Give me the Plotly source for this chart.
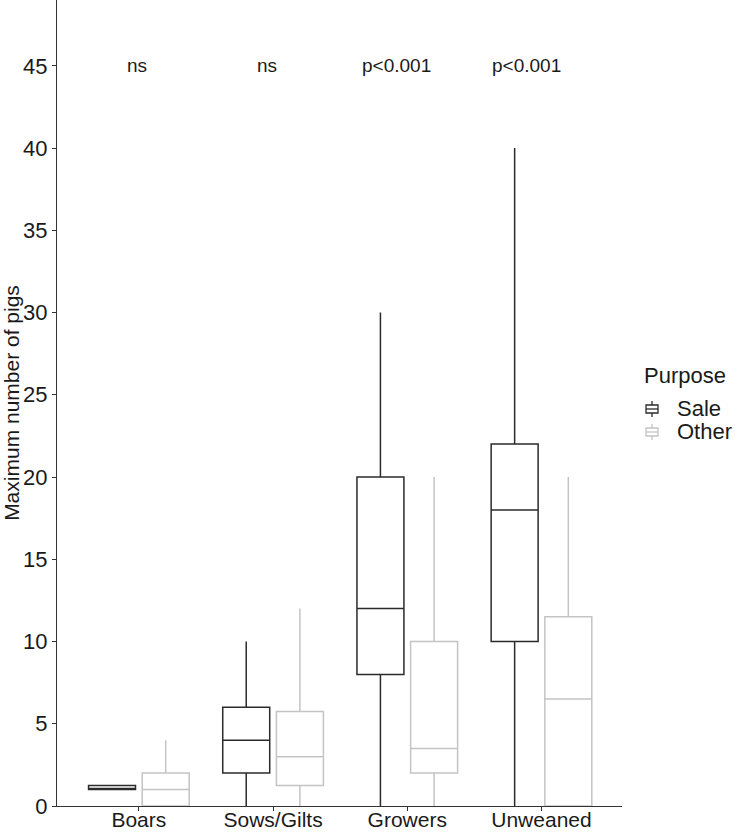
import plotly.graph_objects as go

categories = ["Boars", "Sows/Gilts", "Growers", "Unweaned"]

# Sale series (quartile summary)
sale_lower = [1, 0, 0, 0]
sale_q1 = [1, 2, 8, 10]
sale_median = [1, 4, 12, 18]
sale_q3 = [1.25, 6, 20, 22]
sale_upper = [1.25, 10, 30, 40]

# Other series
other_lower = [0, 0, 0, 0]
other_q1 = [0, 1.25, 2, 0]
other_median = [1, 3, 3.5, 6.5]
other_q3 = [2, 5.75, 10, 11.5]
other_upper = [4, 12, 20, 20]

p_labels = ["ns", "ns", "p<0.001", "p<0.001"]
p_label_y = 45
p_label_x = [-0.015, 0.955, 1.92, 2.89]

y_ticks = [0, 5, 10, 15, 20, 25, 30, 35, 40, 45]

legend_title = "Purpose"
legend_names = ["Sale", "Other"]

SALE_COLOR = "#2b2b2b"
OTHER_COLOR = "#c4c4c4"
TEXT_COLOR = "#1a1a1a"

W, H = 737, 833
ML, MR, MT, MB = 57, 115, 0, 27
PW, PH = W - ML - MR, H - MT - MB


def px_to_paper(px, py):
    return (px - ML) / PW, (H - MB - py) / PH


fig = go.Figure()
fig.add_trace(go.Box(
    name="Sale", x=categories, q1=sale_q1, median=sale_median, q3=sale_q3,
    lowerfence=sale_lower, upperfence=sale_upper,
    line=dict(color=SALE_COLOR, width=1.5), fillcolor="rgba(255,255,255,0)",
    whiskerwidth=0, boxpoints=False, hoverinfo="skip",
))
fig.add_trace(go.Box(
    name="Other", x=categories, q1=other_q1, median=other_median, q3=other_q3,
    lowerfence=other_lower, upperfence=other_upper,
    line=dict(color=OTHER_COLOR, width=1.5), fillcolor="rgba(255,255,255,0)",
    whiskerwidth=0, boxpoints=False, hoverinfo="skip",
))

for xv, txt in zip(p_label_x, p_labels):
    fig.add_annotation(x=xv, y=p_label_y, xref="x", yref="y", text=txt,
                       showarrow=False, font=dict(size=19, color=TEXT_COLOR))

# manual legend (ggplot-style, tight spacing)
tx, ty = px_to_paper(642, 376)
fig.add_annotation(x=tx, y=ty, xref="paper", yref="paper", text=legend_title,
                   showarrow=False, xanchor="left", yanchor="middle",
                   font=dict(size=22, color=TEXT_COLOR))
for i, (name, col) in enumerate(zip(legend_names, [SALE_COLOR, OTHER_COLOR])):
    cy = 409 + i * 23
    lx, ly = px_to_paper(675, cy)
    fig.add_annotation(x=lx, y=ly, xref="paper", yref="paper", text=name,
                       showarrow=False, xanchor="left", yanchor="middle",
                       font=dict(size=22, color=TEXT_COLOR))
    x0, y0 = px_to_paper(646, cy + 4)
    x1, y1 = px_to_paper(658, cy - 4)
    xm, _ = px_to_paper(652, cy)
    _, ymid = px_to_paper(652, cy)
    _, ytop = px_to_paper(652, cy - 8)
    _, ybot = px_to_paper(652, cy + 8)
    ln = dict(color=col, width=1.3)
    fig.add_shape(type="rect", xref="paper", yref="paper", x0=x0, y0=y0, x1=x1, y1=y1, line=ln)
    fig.add_shape(type="line", xref="paper", yref="paper", x0=x0, y0=ymid, x1=x1, y1=ymid, line=ln)
    fig.add_shape(type="line", xref="paper", yref="paper", x0=xm, y0=y1, x1=xm, y1=ytop, line=ln)
    fig.add_shape(type="line", xref="paper", yref="paper", x0=xm, y0=y0, x1=xm, y1=ybot, line=ln)

fig.update_layout(
    width=W, height=H,
    margin=dict(l=ML, r=MR, t=MT, b=MB, autoexpand=False),
    paper_bgcolor="white", plot_bgcolor="white",
    boxmode="group", boxgap=0.2, boxgroupgap=0.125,
    font=dict(family="Liberation Sans, Arial, sans-serif", color=TEXT_COLOR),
    showlegend=False,
)
fig.update_xaxes(
    type="category", categoryorder="array", categoryarray=categories,
    range=[-0.61, 3.6], showline=True, linecolor="#333333", linewidth=1,
    ticks="outside", ticklen=4, tickcolor="#333333", showgrid=False,
    tickfont=dict(size=21, color=TEXT_COLOR), zeroline=False, automargin=False,
    ticklabelstandoff=-9,
)
fig.update_yaxes(
    range=[0, 49], tickvals=y_ticks, showline=True, linecolor="#333333", linewidth=1,
    ticks="outside", ticklen=4, tickcolor="#333333", showgrid=False, zeroline=False,
    tickfont=dict(size=22, color=TEXT_COLOR), automargin=False,
    title=dict(text="Maximum number of pigs", font=dict(size=21), standoff=4),
)

fig.write_html("out.html")
